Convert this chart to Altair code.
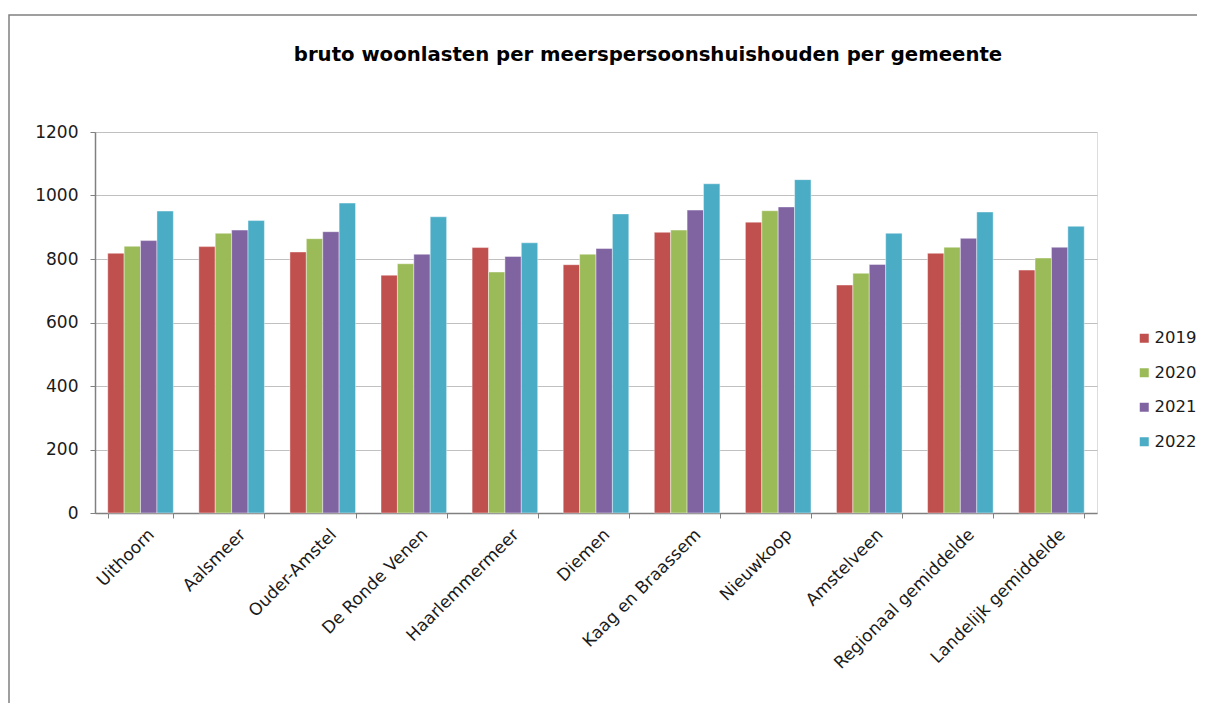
import altair as alt
import pandas as pd

categories = ["Uithoorn", "Aalsmeer", "Ouder-Amstel", "De Ronde Venen", "Haarlemmermeer",
              "Diemen", "Kaag en Braassem", "Nieuwkoop", "Amstelveen",
              "Regionaal gemiddelde", "Landelijk gemiddelde"]
years = ["2019", "2020", "2021", "2022"]
v2019 = [818, 839, 822, 749, 836, 782, 884, 916, 718, 818, 765]
v2020 = [840, 881, 864, 785, 759, 815, 891, 952, 755, 837, 803]
v2021 = [858, 891, 886, 815, 808, 833, 954, 964, 783, 865, 837]
v2022 = [951, 921, 976, 933, 851, 942, 1037, 1050, 881, 948, 903]
colors = ["#C0504D", "#9BBB59", "#8064A2", "#4BACC6"]

rows = []
for yr, vals in zip(years, [v2019, v2020, v2021, v2022]):
    for c, v in zip(categories, vals):
        rows.append({"gemeente": c, "jaar": yr, "waarde": v})
df = pd.DataFrame(rows)

FONT = "DejaVu Sans"

bars = alt.Chart(df).mark_bar(stroke="#ffffff", strokeWidth=0.6, strokeOpacity=0.7).encode(
    x=alt.X("gemeente:N", sort=categories, title=None,
            scale=alt.Scale(paddingInner=0.28, paddingOuter=0.14),
            axis=alt.Axis(labelAngle=-45, labelFontSize=17, labelFont=FONT, labelColor="#1a1a1a",
                          tickBand="extent", tickSize=5, tickColor="#808080",
                          domainColor="#808080", domainWidth=1.5, labelPadding=8,
                          labelOffset=5, labelLimit=300)),
    xOffset=alt.XOffset("jaar:N", sort=years),
    y=alt.Y("waarde:Q", title=None,
            scale=alt.Scale(domain=[0, 1200]),
            axis=alt.Axis(values=[0, 200, 400, 600, 800, 1000, 1200], format="d", labelFontSize=17,
                          labelFont=FONT, labelColor="#1a1a1a", tickSize=5, tickColor="#808080",
                          domainColor="#808080", domainWidth=1.5, gridColor="#c0c0c0",
                          labelPadding=12)),
    color=alt.Color("jaar:N", sort=years, scale=alt.Scale(domain=years, range=colors),
                    legend=alt.Legend(title=None, orient="none", legendX=1041, legendY=198,
                                      symbolType="square", symbolSize=81, symbolStrokeWidth=0,
                                      labelFontSize=16.5, labelFont=FONT, labelColor="#1a1a1a",
                                      rowPadding=17.5, symbolOffset=0, labelOffset=2)),
)

frame_df = pd.DataFrame({"k": [0]})
frame = alt.Chart(frame_df).mark_rect(fill=None, stroke="#808080", strokeWidth=1.5, clip=False).encode(
    x=alt.value(-86), x2=alt.value(1200), y=alt.value(-117), y2=alt.value(700)
)

chart = alt.layer(frame, bars).properties(
    width=1002, height=381,
    autosize=alt.AutoSizeParams(type="none"),
    padding={"left": 87, "top": 124, "right": 100, "bottom": 190},
    title=alt.TitleParams("bruto woonlasten per meerspersoonshuishouden per gemeente",
                          anchor="middle", frame="group", dx=52, offset=-66,
                          baseline="alphabetic", fontSize=19.7, font=FONT,
                          fontWeight="bold", color="#000000"),
).configure_view(stroke="#a0a0a0", strokeWidth=1.5).configure(background="white")

chart.save("out.html", embed_options={"renderer": "svg", "actions": False})
